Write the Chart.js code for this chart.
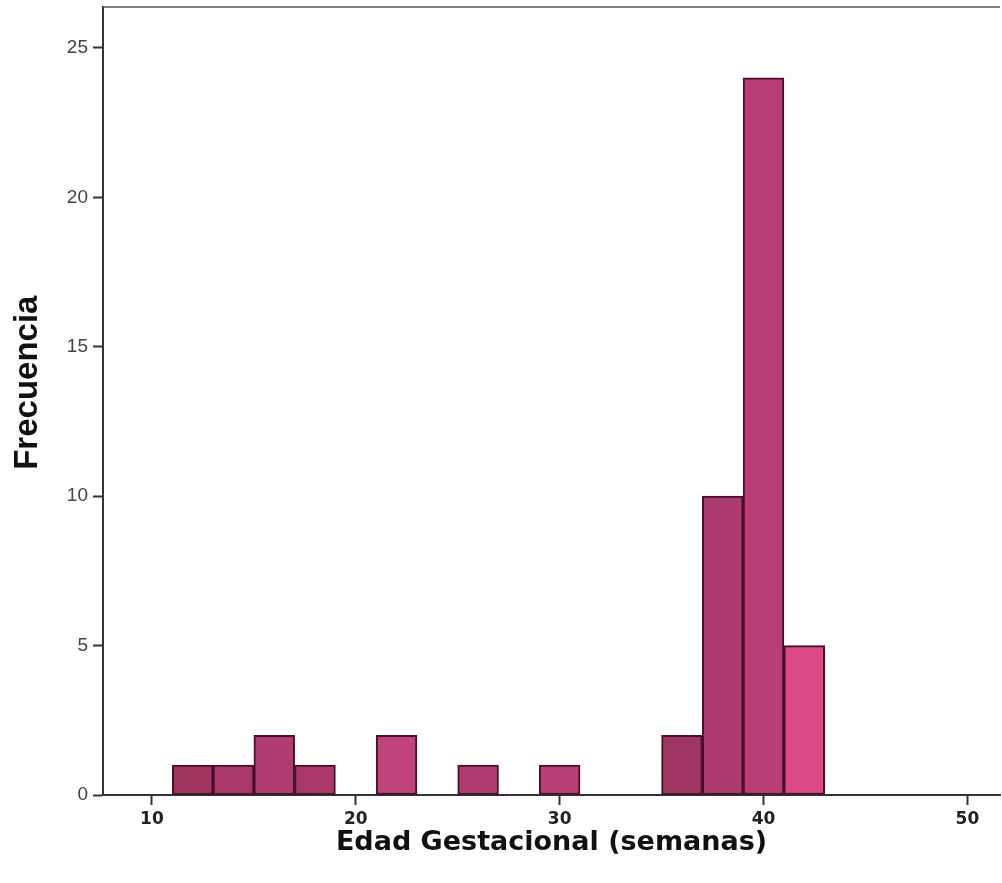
<!DOCTYPE html>
<html><head><meta charset="utf-8">
<script src="https://cdn.jsdelivr.net/npm/chart.js@4.4.1/dist/chart.umd.min.js"></script>
<style>html,body{margin:0;padding:0;background:#fff;}canvas{display:block;}</style>
</head><body>
<canvas id="c" width="1002" height="883"></canvas>
<script>
const binCenters = [12, 14, 16, 18, 22, 26, 30, 36, 38, 40, 42];
const frequencies = [1, 1, 2, 1, 2, 1, 1, 2, 10, 24, 5];
const barColors = ['#a0365f','#a93a6a','#b13c6f','#aa396a','#c0437a','#b13c6f','#b73f74','#9f3762','#ad3a6d','#b73d73','#dc4a86'];
const yTicks = [0, 5, 10, 15, 20, 25];
const xTicks = [10, 20, 30, 40, 50];

const framePlugin = {
  id: 'frame',
  afterDraw(chart) {
    const {ctx, chartArea: a} = chart;
    ctx.save();
    ctx.strokeStyle = '#555';
    ctx.lineWidth = 1.5;
    ctx.beginPath();
    ctx.moveTo(a.left, a.top);
    ctx.lineTo(a.right, a.top);
    ctx.stroke();
    ctx.restore();
  }
};

new Chart(document.getElementById('c'), {
  type: 'bar',
  data: {
    datasets: [{
      data: binCenters.map((x, i) => ({x: x, y: frequencies[i]})),
      backgroundColor: barColors,
      borderColor: '#4a0f2c',
      borderWidth: 2,
      borderSkipped: false,
      barPercentage: 1.0,
      categoryPercentage: 1.0
    }]
  },
  options: {
    responsive: false,
    animation: false,
    devicePixelRatio: 1,
    layout: {padding: {top: 7, right: 2, left: 0, bottom: 0}},
    plugins: {legend: {display: false}, tooltip: {enabled: false}},
    scales: {
      x: {
        type: 'linear',
        offset: false,
        min: 7.6,
        max: 51.6,
        afterBuildTicks(scale) { scale.ticks = xTicks.map(v => ({value: v})); },
        afterFit(scale) { scale.height = 88; scale.paddingLeft = 0; scale.paddingRight = 0; },
        grid: {offset: false, drawOnChartArea: false, drawTicks: true, tickLength: 10, color: '#333', tickWidth: 2},
        border: {display: true, color: '#333', width: 2},
        ticks: {color: '#222', font: {family: 'DejaVu Sans', size: 17, weight: 'bold'}, padding: 4},
        title: {display: true, text: 'Edad Gestacional (semanas)', color: '#111', font: {family: 'DejaVu Sans', size: 27, weight: 'bold'}, padding: {top: 0, bottom: 24}}
      },
      y: {
        type: 'linear',
        min: 0,
        max: 26.37,
        afterBuildTicks(scale) { scale.ticks = yTicks.map(v => ({value: v})); },
        afterFit(scale) { scale.width = 103; scale.paddingTop = 0; scale.paddingBottom = 0; },
        grid: {drawOnChartArea: false, drawTicks: true, tickLength: 10, color: '#333', tickWidth: 2},
        border: {display: true, color: '#333', width: 2},
        ticks: {color: '#444', font: {family: 'Liberation Sans', size: 19}, padding: 5},
        title: {display: true, text: '    Frecuencia', color: '#111', font: {family: 'Liberation Sans', size: 33, weight: 'bold'}, padding: {top: 8, bottom: 0}}
      }
    }
  },
  plugins: [framePlugin]
});
</script>
</body></html>
